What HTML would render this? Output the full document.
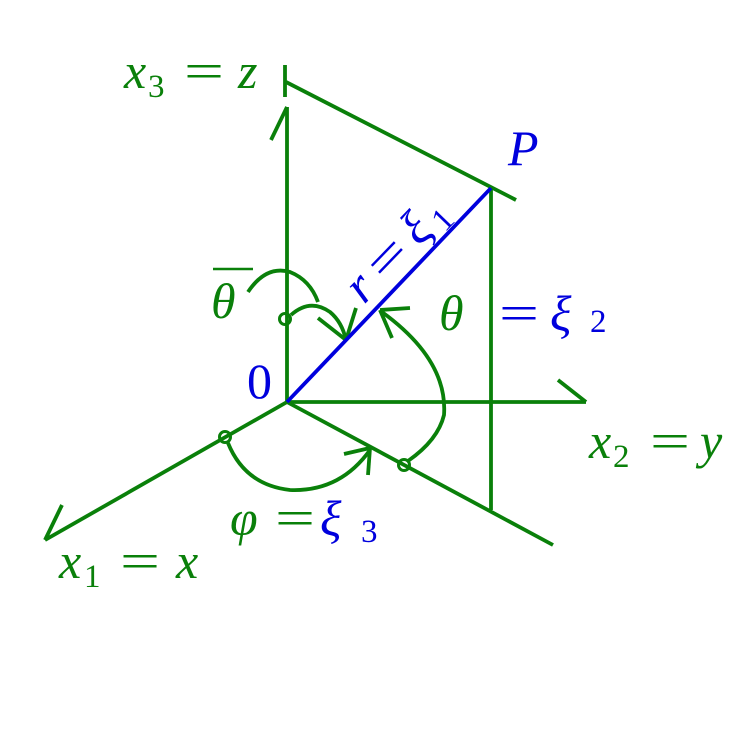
<!DOCTYPE html>
<html><head><meta charset="utf-8"><style>body{margin:0;background:#fff}svg{display:block}</style></head><body>
<svg width="750" height="750" xmlns="http://www.w3.org/2000/svg">
<g stroke="#0a800a" stroke-width="3.8" fill="none" stroke-linecap="butt">
<line x1="287" y1="402" x2="287" y2="107"/>
<line x1="287" y1="107" x2="271" y2="140"/>
<line x1="285" y1="65" x2="285" y2="97"/>
<line x1="286" y1="82" x2="516" y2="200"/>
<line x1="491" y1="188" x2="491" y2="510"/>
<line x1="287" y1="402" x2="586" y2="402"/>
<line x1="586" y1="402" x2="558" y2="380"/>
<line x1="287" y1="402" x2="45" y2="540"/>
<line x1="45" y1="540" x2="62" y2="505"/>
<line x1="287" y1="402" x2="553" y2="545"/>
<circle cx="225" cy="437" r="5.5" stroke-width="3"/>
<circle cx="404" cy="465" r="5.5" stroke-width="3"/>
<circle cx="285" cy="319" r="5.5" stroke-width="3"/>
<path d="M248,292 Q266,265 290,272 Q310,280 318,302"/>
<path d="M291,315 Q310,298 330,312 Q342,322 346,340"/>
<line x1="346" y1="340" x2="318" y2="318"/>
<line x1="346" y1="340" x2="356" y2="308"/>
<path d="M408,461 Q438,440 444,415 Q448,360 382,312"/>
<line x1="380" y1="310" x2="410" y2="308"/>
<line x1="380" y1="310" x2="392" y2="338"/>
<path d="M228,443 Q245,485 290,490 Q340,492 370,450"/>
<line x1="370" y1="448" x2="344" y2="454"/>
<line x1="370" y1="448" x2="368" y2="475"/>
<line x1="213" y1="269" x2="253" y2="269" stroke-width="2.5"/>
</g>
<g font-family="Liberation Serif, serif" fill="#0a800a" font-size="50">
<text x="124" y="88" font-style="italic">x</text><text x="148" y="97" font-size="33">3</text><text x="184" y="88" textLength="40" lengthAdjust="spacingAndGlyphs">=</text><text x="238" y="88" font-style="italic">z</text>
<text x="211" y="318" font-style="italic">θ</text>
<text x="439" y="330" font-style="italic">θ</text>
<text x="589" y="458" font-style="italic">x</text><text x="613" y="467" font-size="33">2</text><text x="650" y="458" textLength="40" lengthAdjust="spacingAndGlyphs">=</text><text x="700" y="458" font-style="italic">y</text>
<text x="59" y="578" font-style="italic">x</text><text x="84" y="587" font-size="33">1</text><text x="120" y="578" textLength="40" lengthAdjust="spacingAndGlyphs">=</text><text x="176" y="578" font-style="italic">x</text>
<text x="230" y="535" font-style="italic">φ</text><text x="275" y="535" textLength="40" lengthAdjust="spacingAndGlyphs">=</text>
</g>
<line x1="287" y1="402" x2="491" y2="188" stroke="#0000dd" stroke-width="3.8"/>
<g font-family="Liberation Serif, serif" fill="#0000dd" font-size="50">
<text x="320" y="535" font-style="italic">ξ</text><text x="361" y="542" font-size="33">3</text>
<text x="508" y="165" font-style="italic">P</text>
<text x="247" y="398">0</text>
<text x="499" y="330" textLength="40" lengthAdjust="spacingAndGlyphs">=</text><text x="550" y="330" font-style="italic">ξ</text><text x="590" y="332" font-size="33">2</text>
<g transform="translate(364,305) rotate(-46)"><text x="0" y="0" font-style="italic">r</text><text x="30" y="0" textLength="40" lengthAdjust="spacingAndGlyphs">=</text><text x="80" y="0" font-style="italic">ξ</text><text x="108" y="8" font-size="33">1</text></g>
</g>
</svg>
</body></html>
